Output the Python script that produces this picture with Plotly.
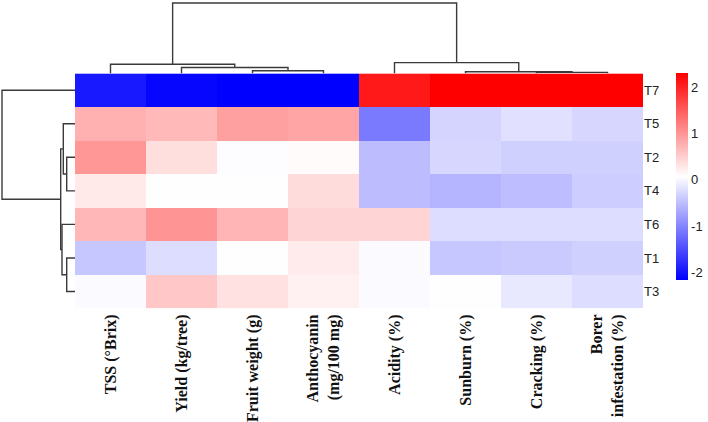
import plotly.graph_objects as go

# ---------------- data ----------------
features = ["TSS (°Brix)", "Yield (kg/tree)", "Fruit weight (g)",
            "Anthocyanin<br>(mg/100 mg)", "Acidity (%)", "Sunburn (%)",
            "Cracking (%)", "Borer<br>infestation (%)"]
treatments = ["T7", "T5", "T2", "T4", "T6", "T1", "T3"]

row_T7 = [-1.95, -2.12, -2.17, -2.17, 2.08, 2.30, 2.30, 2.30]
row_T5 = [0.76, 0.68, 0.90, 0.85, -1.10, -0.31, -0.20, -0.29]
row_T2 = [0.98, 0.35, 0.05, 0.10, -0.52, -0.29, -0.35, -0.35]
row_T4 = [0.26, 0.06, 0.06, 0.37, -0.52, -0.58, -0.51, -0.37]
row_T6 = [0.70, 1.00, 0.71, 0.44, 0.44, -0.23, -0.23, -0.23]
row_T1 = [-0.43, -0.23, 0.06, 0.24, 0.02, -0.43, -0.40, -0.35]
row_T3 = [0.02, 0.56, 0.33, 0.19, 0.02, 0.06, -0.14, -0.23]
z_values = [row_T7, row_T5, row_T2, row_T4, row_T6, row_T1, row_T3]

# linkage (left index, right index, merge height); ids >= n are earlier merges
col_links = [(2, 3, 0.27), (1, 8, 0.60), (0, 9, 0.93), (6, 7, 0.10),
             (5, 11, 0.17), (4, 12, 1.10), (10, 13, 7.20)]
row_links = [(2, 3, 0.83), (1, 7, 1.17), (5, 6, 0.83), (4, 9, 1.30),
             (8, 10, 1.43), (0, 11, 7.30)]

cbar_ticks = [-2, -1, 0, 1, 2]
z_min, z_max = -2.17, 2.30

# ---------------- helpers ----------------
def dendro_segments(links, n):
    pos = {i: float(i) for i in range(n)}
    hgt = {i: 0.0 for i in range(n)}
    p, h = [], []
    for k, (l, r, ht) in enumerate(links):
        node = n + k
        p += [pos[l], pos[l], pos[r], pos[r], None]
        h += [hgt[l], ht, ht, hgt[r], None]
        pos[node] = (pos[l] + pos[r]) / 2
        hgt[node] = ht
    return p, h

W, H = 708, 422
hm_l, hm_r, hm_t, hm_b = 75, 643, 75, 315
xd = [hm_l / W, hm_r / W]
yd = [1 - hm_b / H, 1 - hm_t / H]

fig = go.Figure()

fig.add_trace(go.Heatmap(
    z=z_values, x=list(range(len(features))), y=list(range(len(treatments))),
    zmin=z_min, zmax=z_max,
    colorscale=[[0, "#0000ff"], [0.5, "#ffffff"], [1, "#ff0000"]],
    xaxis="x", yaxis="y",
    colorbar=dict(
        x=676 / W, xanchor="left", xpad=0,
        y=1 - 180.5 / H, yanchor="middle", ypad=0,
        len=211 / H, lenmode="fraction", thickness=12,
        outlinewidth=0, ticks="",
        tickvals=cbar_ticks, ticktext=[str(t) for t in cbar_ticks],
        tickfont=dict(family="Liberation Sans Narrow, Arial, Liberation Sans", size=13, color="#222"),
    ),
    hoverinfo="skip",
))

cp, ch = dendro_segments(col_links, len(features))
fig.add_trace(go.Scatter(x=cp, y=ch, mode="lines", xaxis="x2", yaxis="y2",
                         line=dict(color="#3a3a3a", width=1.4), hoverinfo="skip",
                         showlegend=False))
rp, rh = dendro_segments(row_links, len(treatments))
fig.add_trace(go.Scatter(x=rh, y=rp, mode="lines", xaxis="x3", yaxis="y3",
                         line=dict(color="#3a3a3a", width=1.4), hoverinfo="skip",
                         showlegend=False))

nf, nt = len(features), len(treatments)
fig.update_layout(
    width=W, height=H,
    margin=dict(l=0, r=0, t=0, b=0),
    paper_bgcolor="white", plot_bgcolor="white",
    showlegend=False,
    xaxis=dict(domain=xd, range=[-0.5, nf - 0.5], tickvals=list(range(nf)),
               ticktext=["<b>" + f.replace("<br>", "</b><br><b>") + "</b>" for f in features],
               tickangle=-90, showgrid=False, zeroline=False, ticks="",
               ticklabelstandoff=2,
               tickfont=dict(family="Liberation Serif, Times New Roman, serif", size=16, color="#111"),
               anchor="y"),
    yaxis=dict(domain=yd, range=[nt - 0.5, -0.5], tickvals=list(range(nt)),
               ticktext=treatments, side="right", showgrid=False, zeroline=False,
               ticks="", anchor="x",
               tickfont=dict(family="Liberation Sans Narrow, Arial, Liberation Sans", size=13, color="#222")),
    xaxis2=dict(domain=xd, range=[-0.5, nf - 0.5], visible=False, anchor="y2"),
    yaxis2=dict(domain=[1 - hm_t / H, 1 - 1 / H], range=[0, 7.4], visible=False, anchor="x2"),
    xaxis3=dict(domain=[0, hm_l / W], range=[7.5, 0], visible=False, anchor="y3"),
    yaxis3=dict(domain=yd, range=[nt - 0.5, -0.5], visible=False, anchor="x3"),
)

fig.write_html("out.html")
